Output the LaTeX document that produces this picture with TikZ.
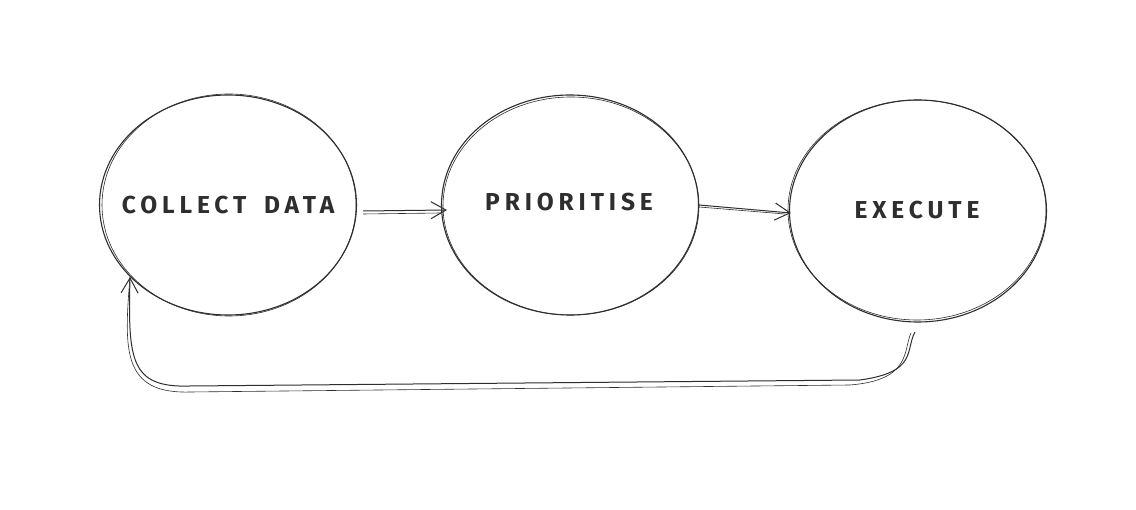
\documentclass[tikz,border=0pt]{standalone}
\usepackage{fontspec}
\setmainfont{Fira Sans}[LetterSpace=20]
\usetikzlibrary{shapes.geometric,arrows.meta}
\definecolor{ink}{HTML}{2E2E2E}
\tikzset{
  stage/.style={ellipse, draw=ink, line width=1.1pt, inner sep=0pt,
    minimum width=257pt, minimum height=220pt},
  label/.style={text=ink, font=\lbl, inner sep=0pt},
  conn/.style={draw=ink, line width=1pt, -{Straight Barb[length=15pt,width=17pt,line width=1pt]}},
  sketch/.style={draw=ink, line width=0.6pt},
}
\newcommand\lbl{\fontsize{24.5}{28}\selectfont\bfseries}
\begin{document}
\begin{tikzpicture}[x=1pt,y=-1pt]
\useasboundingbox[fill=white] (0,0) rectangle (1136,510);
\node[stage] (c) at (228,205) {};
\node[stage] (p) at (570,205) {};
\node[stage, minimum height=222pt] (e) at (918,211) {};
\node[label] (ct) at (228,205) {COLLECT\hspace{7pt} DATA};
\node[label] (pt) at (569,202) {PRIORITISE};
\node[label] (et) at (917,210) {EXECUTE};
% sketchy second strokes
\draw[sketch] (229,205) ellipse [x radius=127pt, y radius=111pt];
\draw[sketch] (571,206) ellipse [x radius=128pt, y radius=109pt];
\draw[sketch] (917,210) ellipse [x radius=129pt, y radius=110pt];
% arrows
\draw[conn] ([xshift=6pt,yshift=-6pt]c.east) -- ([xshift=6pt,yshift=-5pt]p.west);
\draw[sketch] ([xshift=6pt,yshift=-9pt]c.east) -- ([xshift=0pt,yshift=-8pt]p.west);
\draw[conn] ([yshift=0pt]p.east) -- ([xshift=2pt,yshift=-2pt]e.west);
\draw[sketch] ([yshift=-2pt]p.east) -- ([xshift=-4pt,yshift=-3pt]e.west);
% feedback loop
\coordinate (fs) at (915,332);
\coordinate (ft) at (130,277);
\draw[conn] (fs) .. controls (905,350) and (918,372) .. (860,380)
  -- (190,386) .. controls (130,388) and (128,360) .. (ft);
\draw[sketch] (911,333) .. controls (903,350) and (912,380) .. (850,385)
  -- (190,392) .. controls (122,394) and (124,350) .. (ft);
\end{tikzpicture}
\end{document}
